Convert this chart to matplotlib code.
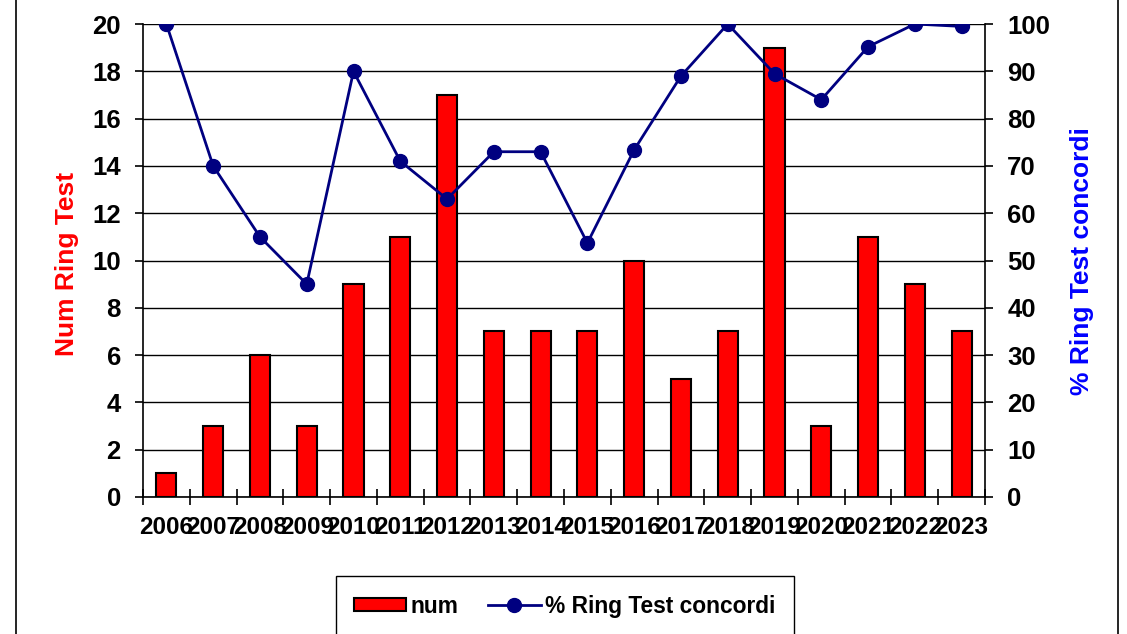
import matplotlib
matplotlib.use("Agg")
import matplotlib.pyplot as plt
import numpy as np
from matplotlib.lines import Line2D

plt.rcParams['font.family'] = ['Liberation Sans', 'DejaVu Sans']
plt.rcParams['font.weight'] = 'bold'

# ── Data ──────────────────────────────────────────────────────────────────────
years = ["2006", "2007", "2008", "2009", "2010", "2011", "2012", "2013", "2014",
         "2015", "2016", "2017", "2018", "2019", "2020", "2021", "2022", "2023"]
num = [1, 3, 6, 3, 9, 11, 17, 7, 7, 7, 10, 5, 7, 19, 3, 11, 9, 7]
pct = [100, 70, 55, 45, 90, 71, 63, 73, 73, 53.7, 73.4, 89, 100, 89.5, 84, 95.2, 100, 99.5]

BAR_COL = "#FF0000"
LINE_COL = "#000080"

fig = plt.figure(figsize=(11.27, 6.34), dpi=100)
fig.patch.set_facecolor("white")
ax = fig.add_axes([0.1269, 0.2161, 0.7471, 0.746])

x = np.arange(len(years))
bars = ax.bar(x, num, width=0.43, color=BAR_COL, edgecolor="black", linewidth=1.5,
              zorder=3, label="num")

ax.set_xlim(-0.5, len(years) - 0.5)
ax.set_ylim(0, 20)
ax.set_yticks(range(0, 21, 2))
ax.yaxis.grid(True, color="black", linewidth=1.0, zorder=0)
ax.set_axisbelow(True)
ax.set_xticks(x)
ax.set_xticklabels(years, fontsize=17.5, fontweight="bold")
ax.set_xticks(np.arange(-0.5, len(years)), minor=True)
ax.tick_params(axis="x", which="major", length=0, pad=14)
ax.tick_params(axis="x", which="minor", direction="inout", length=12, width=1.2)
ax.tick_params(axis="y", labelsize=18.5, length=6, width=1.2, pad=10)
for lab in ax.get_yticklabels():
    lab.set_fontweight("bold")
ax.spines["top"].set_visible(False)
ax.spines["right"].set_visible(False)
ax.spines["left"].set_linewidth(1.2)
ax.spines["bottom"].set_linewidth(1.2)
ax.set_ylabel("Num Ring Test", color=BAR_COL, fontsize=19, fontweight="bold")
ax.yaxis.set_label_coords(-0.076, 0.493)

ax2 = ax.twinx()
line, = ax2.plot(x, pct, color=LINE_COL, linewidth=2, marker="o", markersize=10,
                 label="% Ring Test concordi")
ax2.set_ylim(0, 100)
ax2.set_yticks(range(0, 101, 10))
ax2.tick_params(axis="y", labelsize=18.5, length=6, width=1.2, pad=10)
for lab in ax2.get_yticklabels():
    lab.set_fontweight("bold")
ax2.spines["top"].set_visible(False)
ax2.spines["left"].set_visible(False)
ax2.spines["bottom"].set_visible(False)
ax2.spines["right"].set_linewidth(1.2)
ax2.set_ylabel("% Ring Test concordi", color="#0000FF", fontsize=19, fontweight="bold")
ax2.yaxis.set_label_coords(1.101, 0.498)

# ── Legend ────────────────────────────────────────────────────────────────────
fig.legend(handles=[bars, line], loc="center", bbox_to_anchor=(0.501, 0.044),
           ncol=2, frameon=True, fancybox=False, edgecolor="black", framealpha=1,
           prop={"size": 16.4, "weight": "bold"}, handlelength=2.3, handleheight=0.55,
           columnspacing=1.3, borderpad=0.8, handletextpad=0.2, markerscale=1.0,
           borderaxespad=0)

# ── Figure border ─────────────────────────────────────────────────────────────
for xf in (16 / 1127, 1118 / 1127):
    fig.add_artist(Line2D([xf, xf], [0, 1], color="black", linewidth=1.2,
                          transform=fig.transFigure))

fig.savefig("out.png", dpi=100)
